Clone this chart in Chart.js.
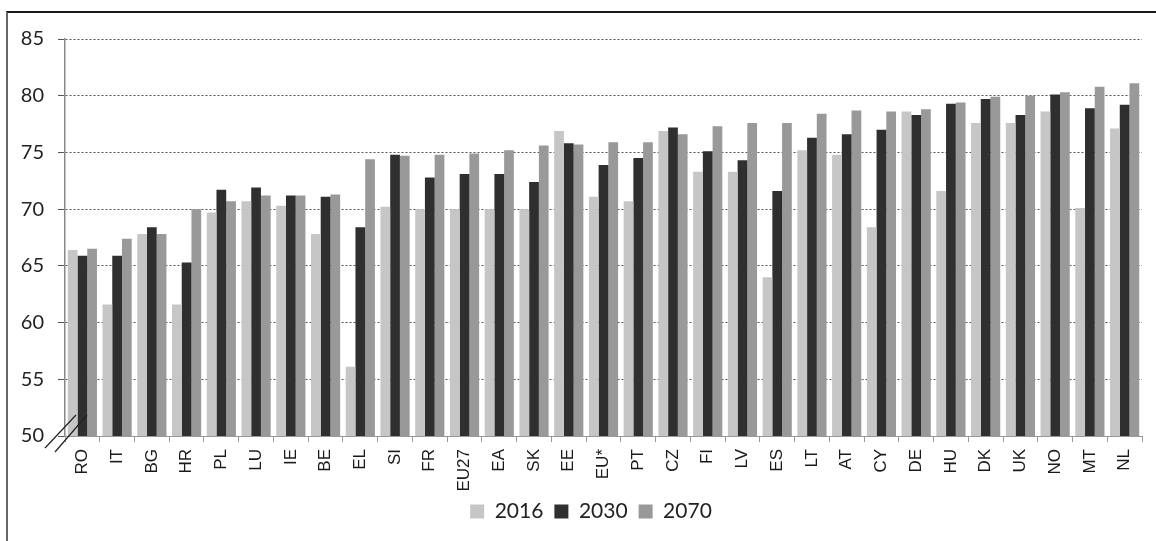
<!DOCTYPE html>
<html><head><meta charset="utf-8">
<script src="https://cdn.jsdelivr.net/npm/chart.js@4"></script>
<style>
html,body{margin:0;padding:0;background:#fff;}
#wrap{position:absolute;left:6px;top:11px;width:1148px;height:528px;border-top:2px solid #1a1a1a;border-left:2px solid #666;}
#wrap canvas{display:block;}
</style></head><body>
<div id="wrap"><canvas id="c" width="1148" height="528" style="width:1148px;height:528px"></canvas></div>
<script>
const categories = ['RO','IT','BG','HR','PL','LU','IE','BE','EL','SI','FR','EU27','EA','SK','EE','EU*','PT','CZ','FI','LV','ES','LT','AT','CY','DE','HU','DK','UK','NO','MT','NL'];
const values2016 = [66.4,61.6,67.8,61.6,69.7,70.7,70.3,67.8,56.1,70.2,70.0,70.0,70.0,70.0,76.9,71.1,70.7,76.9,73.3,73.3,64.0,75.2,74.8,68.4,78.6,71.6,77.6,77.6,78.6,70.1,77.1];
const values2030 = [65.9,65.9,68.4,65.3,71.7,71.9,71.2,71.1,68.4,74.8,72.8,73.1,73.1,72.4,75.8,73.9,74.5,77.2,75.1,74.3,71.6,76.3,76.6,77.0,78.3,79.3,79.7,78.3,80.1,78.9,79.2];
const values2070 = [66.5,67.4,67.8,70.0,70.7,71.2,71.2,71.3,74.4,74.7,74.8,74.9,75.2,75.6,75.7,75.9,75.9,76.6,77.3,77.6,77.6,78.4,78.7,78.6,78.8,79.4,79.9,80.0,80.3,80.8,81.1];
const seriesLabels = ['2016','2030','2070'];
const yTicks = [50,55,60,65,70,75,80,85];

const axisBreak = {
  id: 'axisBreak',
  afterDraw(chart) {
    const {ctx, chartArea} = chart;
    const l = chartArea.left, b = chartArea.bottom;
    ctx.save();
    ctx.strokeStyle = '#222';
    ctx.lineWidth = 1.2;
    [[-20, 12, 11, -21], [-10, 16, 22, -21]].forEach(s => {
      ctx.beginPath();
      ctx.moveTo(l + s[0], b + s[1]);
      ctx.lineTo(l + s[2], b + s[3]);
      ctx.stroke();
    });
    ctx.restore();
  }
};
const legendShift = {
  id: 'legendShift',
  afterLayout(chart) {
    const lg = chart.legend;
    if (lg) { lg.left += 16; lg.right += 16; }
  }
};

new Chart(document.getElementById('c'), {
  type: 'bar',
  data: {
    labels: categories,
    datasets: [
      {label: seriesLabels[0], data: values2016, backgroundColor: '#c6c6c6'},
      {label: seriesLabels[1], data: values2030, backgroundColor: '#2f2f2f'},
      {label: seriesLabels[2], data: values2070, backgroundColor: '#999999'}
    ]
  },
  options: {
    responsive: false,
    animation: false,
    devicePixelRatio: 1,
    layout: {padding: {left: 0, right: 14, top: 25, bottom: 9}},
    datasets: {bar: {categoryPercentage: 0.84, barPercentage: 1.0}},
    plugins: {
      tooltip: {enabled: false},
      legend: {
        position: 'bottom',
        labels: {
          boxWidth: 14, boxHeight: 14, padding: 11,
          color: '#222',
          font: {family: 'Lato', size: 21}
        }
      }
    },
    scales: {
      x: {
        grid: {display: true, drawOnChartArea: false, drawTicks: true, tickLength: 6, color: '#999', offset: true},
        border: {display: true, color: '#999', width: 1},
        ticks: {
          minRotation: 90, maxRotation: 90, autoSkip: false, padding: 7,
          color: '#1a1a1a',
          font: {family: 'Liberation Sans', size: 17}
        },
        afterFit(s) { s.height = 54; }
      },
      y: {
        min: 50, max: 85,
        afterBuildTicks(s) { s.ticks = yTicks.map(v => ({value: v})); },
        grid: {color: '#555', lineWidth: 1, tickLength: 7, drawTicks: true},
        border: {display: true, color: '#888', width: 1.5, dash: [2, 2]},
        ticks: {
          padding: 14, color: '#222',
          font: {family: 'Lato', size: 20}
        },
        afterFit(s) { s.width = 57; }
      }
    }
  },
  plugins: [axisBreak, legendShift]
});
</script>
</body></html>
